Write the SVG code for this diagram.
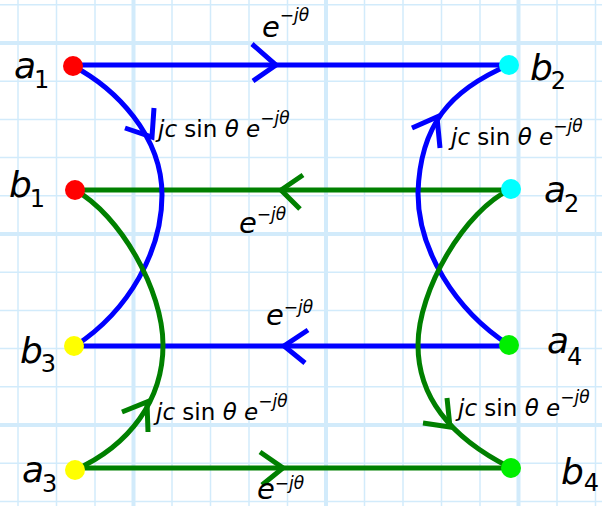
<svg xmlns="http://www.w3.org/2000/svg" width="602" height="506" viewBox="0 0 602 506">
<defs>
<style>
.minor{stroke:#d2ebfb;stroke-width:1.5;fill:none}
.major{stroke:#d2ebfb;stroke-width:4;fill:none}
.blue{stroke:#0000ff;stroke-width:5;fill:none;stroke-linecap:butt;stroke-linejoin:miter}
.green{stroke:#008000;stroke-width:5;fill:none;stroke-linecap:butt;stroke-linejoin:miter}
.lbl{font-family:"DejaVu Sans","Liberation Sans",sans-serif;fill:#000}
.node{font-family:"DejaVu Sans","Liberation Sans",sans-serif;font-style:italic;fill:#000}
.big{font-size:36px}
.sub{font-size:24px;font-style:normal}
.edge{font-size:23px}
.ee{font-size:29px}
.i{font-style:italic}
.sup{font-size:17px}
</style>
</defs>
<rect width="602" height="506" fill="#ffffff"/>
<g id="grid">
<path class="minor" d="M18,0V506M56.5,0V506M95,0V506M172,0V506M210.5,0V506M249,0V506M287.5,0V506M364.5,0V506M403,0V506M441.5,0V506M480,0V506M557,0V506M595.5,0V506"/>
<path class="minor" d="M0,4.8H602M0,81.2H602M0,119.4H602M0,157.6H602M0,195.8H602M0,272.2H602M0,310.4H602M0,348.6H602M0,386.8H602M0,463.2H602M0,501.4H602"/>
<path class="major" d="M133.5,0V506M326,0V506M518.5,0V506M0,43H602M0,234H602M0,425H602"/>
</g>
<g id="connectors">
<path class="blue" d="M73,65H509"/>
<polyline class="blue" points="252,44 276,65 253,81"/>
<path class="green" d="M75,190H511"/>
<polyline class="green" points="303,175 281,190 300,209"/>
<path class="blue" d="M74,346H509"/>
<polyline class="blue" points="308,330 284,346 305,363"/>
<path class="green" d="M75,468H511"/>
<polyline class="green" points="260,452 283,468 262,485"/>
<path class="blue" d="M73,66 C115,88 162,135 162,195 C162,250 130,310 75,346"/>
<polyline class="blue" points="125,128 152,137 154,108"/>
<path class="green" d="M75,190 C120,215 163,290 163,345 C163,400 130,445 75,470"/>
<polyline class="green" points="122,412 147,402 148,432"/>
<path class="blue" d="M509,65 C450,90 420,125 418,193 C418,250 455,310 509,345"/>
<polyline class="blue" points="412,128 437,117 440,148"/>
<path class="green" d="M511,189 C465,210 418,290 418,345 C418,400 455,440 511,468"/>
<polyline class="green" points="423,423 450,427 447,398"/>
<text class="lbl ee" x="262" y="37"><tspan class="i">e</tspan><tspan class="sup" dy="-16">−<tspan class="i">jθ</tspan></tspan></text>
<text class="lbl ee" x="239" y="233"><tspan class="i">e</tspan><tspan class="sup" dy="-13">−<tspan class="i">jθ</tspan></tspan></text>
<text class="lbl ee" x="266" y="325"><tspan class="i">e</tspan><tspan class="sup" dy="-12">−<tspan class="i">jθ</tspan></tspan></text>
<text class="lbl ee" x="257" y="499"><tspan class="i">e</tspan><tspan class="sup" dy="-10">−<tspan class="i">jθ</tspan></tspan></text>
<text class="lbl edge" x="158" y="137"><tspan class="i">jc</tspan> sin <tspan class="i">θ</tspan> <tspan class="i">e</tspan><tspan class="sup" dy="-13">−<tspan class="i">jθ</tspan></tspan></text>
<text class="lbl edge" x="451" y="145"><tspan class="i">jc</tspan> sin <tspan class="i">θ</tspan> <tspan class="i">e</tspan><tspan class="sup" dy="-13">−<tspan class="i">jθ</tspan></tspan></text>
<text class="lbl edge" x="156" y="420"><tspan class="i">jc</tspan> sin <tspan class="i">θ</tspan> <tspan class="i">e</tspan><tspan class="sup" dy="-13">−<tspan class="i">jθ</tspan></tspan></text>
<text class="lbl edge" x="458" y="416"><tspan class="i">jc</tspan> sin <tspan class="i">θ</tspan> <tspan class="i">e</tspan><tspan class="sup" dy="-13">−<tspan class="i">jθ</tspan></tspan></text>
</g>
<g id="a1"><circle cx="73" cy="66" r="10" fill="#ff0000"/><text class="node big" x="14" y="78">a<tspan class="sub" dy="10" dx="-2">1</tspan></text></g>
<g id="b1"><circle cx="75" cy="190" r="10" fill="#ff0000"/><text class="node big" x="9" y="197">b<tspan class="sub" dy="10" dx="-2">1</tspan></text></g>
<g id="b2"><circle cx="509" cy="65" r="10" fill="#00ffff"/><text class="node big" x="530" y="80">b<tspan class="sub" dy="9" dx="-2">2</tspan></text></g>
<g id="a2"><circle cx="511" cy="189" r="10" fill="#00ffff"/><text class="node big" x="544" y="202">a<tspan class="sub" dy="10" dx="-2">2</tspan></text></g>
<g id="b3"><circle cx="74" cy="346" r="10" fill="#ffff00"/><text class="node big" x="20" y="363">b<tspan class="sub" dy="9" dx="-2">3</tspan></text></g>
<g id="a3"><circle cx="75" cy="470" r="10" fill="#ffff00"/><text class="node big" x="22" y="482">a<tspan class="sub" dy="10" dx="-2">3</tspan></text></g>
<g id="a4"><circle cx="509" cy="345" r="10" fill="#00ee00"/><text class="node big" x="547" y="353">a<tspan class="sub" dy="12" dx="-2">4</tspan></text></g>
<g id="b4"><circle cx="511" cy="468" r="10" fill="#00ee00"/><text class="node big" x="561" y="484">b<tspan class="sub" dy="7">4</tspan></text></g>
</svg>
